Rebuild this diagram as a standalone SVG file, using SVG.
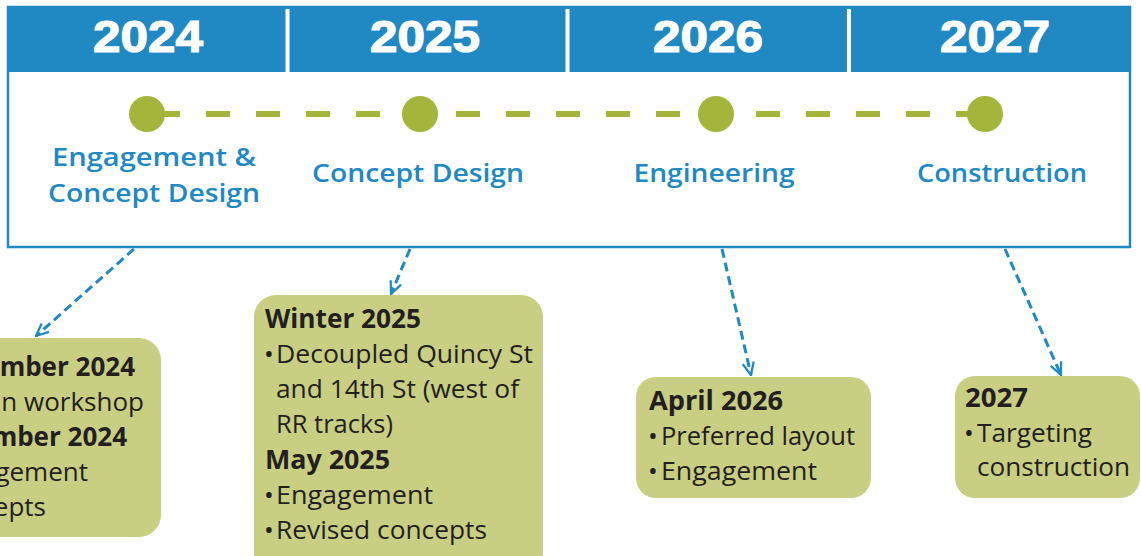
<svg xmlns="http://www.w3.org/2000/svg" width="1141" height="556" viewBox="0 0 1141 556">
<defs>
<style>
.year{font-family:"Liberation Sans",Arial,sans-serif;font-weight:bold;font-size:45px;fill:#fff;stroke:#fff;stroke-width:1.2;text-anchor:middle}
.phase{font-family:"Open Sans","Liberation Sans",sans-serif;font-weight:600;font-size:26px;fill:#2089c4;text-anchor:middle}
.box{fill:#c8ce82}
.t{font-family:"Open Sans","Liberation Sans",sans-serif;font-size:26px;fill:#231f20}
.b{font-weight:bold}
.conn{fill:none;stroke:#2089c4;stroke-width:3;stroke-dasharray:9 5}
.dot{fill:#a3b63b}
</style>
<marker id="arr" viewBox="0 0 12 12" refX="11" refY="6" markerWidth="5" markerHeight="5" orient="auto" markerUnits="strokeWidth">
<path d="M1,1.5 L11,6 L1,10.5" fill="none" stroke="#2089c4" stroke-width="1.8" stroke-linejoin="miter"/>
</marker>
</defs>
<g id="frame">
<rect x="8" y="7" width="1122" height="240" fill="#fff" stroke="#2089c4" stroke-width="2.5"/>
<rect x="8" y="7" width="1122" height="65" fill="#2089c4"/>
<rect x="285.5" y="9" width="4" height="63" fill="#fff"/>
<rect x="565.5" y="9" width="4" height="63" fill="#fff"/>
<rect x="847" y="9" width="4" height="63" fill="#fff"/>
</g>
<g id="years">
<text class="year" x="148" y="52" textLength="110" lengthAdjust="spacingAndGlyphs">2024</text>
<text class="year" x="425" y="52" textLength="110" lengthAdjust="spacingAndGlyphs">2025</text>
<text class="year" x="708" y="52" textLength="110" lengthAdjust="spacingAndGlyphs">2026</text>
<text class="year" x="995" y="52" textLength="110" lengthAdjust="spacingAndGlyphs">2027</text>
</g>
<g id="timeline">
<line x1="147" y1="114" x2="985" y2="114" stroke="#a3b63b" stroke-width="6" stroke-dasharray="24 26" stroke-dashoffset="-9"/>
</g>
<g id="phase-engagement">
<circle class="dot" cx="147" cy="114" r="18"/>
<text class="phase" x="154" y="166" textLength="204" lengthAdjust="spacingAndGlyphs">Engagement &amp;</text>
<text class="phase" x="154" y="202" textLength="212" lengthAdjust="spacingAndGlyphs">Concept Design</text>
</g>
<g id="phase-concept">
<circle class="dot" cx="420" cy="114" r="18"/>
<text class="phase" x="418" y="182" textLength="212" lengthAdjust="spacingAndGlyphs">Concept Design</text>
</g>
<g id="phase-engineering">
<circle class="dot" cx="716" cy="114" r="18"/>
<text class="phase" x="714" y="182" textLength="161" lengthAdjust="spacingAndGlyphs">Engineering</text>
</g>
<g id="phase-construction">
<circle class="dot" cx="985" cy="114" r="18"/>
<text class="phase" x="1002" y="182" textLength="170" lengthAdjust="spacingAndGlyphs">Construction</text>
</g>
<g id="connectors">
<line class="conn" x1="134" y1="249" x2="36" y2="336" marker-end="url(#arr)"/>
<line class="conn" x1="410" y1="249" x2="391" y2="294" marker-end="url(#arr)"/>
<line class="conn" x1="722" y1="249" x2="751" y2="375" marker-end="url(#arr)"/>
<line class="conn" x1="1005" y1="249" x2="1061" y2="375" marker-end="url(#arr)"/>
</g>
<g id="box-2024">
<rect class="box" x="-30" y="338" width="191" height="199" rx="22"/>
<text class="t b" x="135" y="376" text-anchor="end">mber 2024</text>
<text class="t" x="144" y="411" text-anchor="end">n workshop</text>
<text class="t b" x="127" y="446" text-anchor="end">mber 2024</text>
<text class="t" x="88" y="481" text-anchor="end">gement</text>
<text class="t" x="46" y="516" text-anchor="end">epts</text>
</g>
<g id="box-2025">
<rect class="box" x="254" y="295" width="289" height="280" rx="22"/>
<text class="t b" x="265" y="328" textLength="156" lengthAdjust="spacingAndGlyphs">Winter 2025</text>
<text class="t" y="363"><tspan x="264">•</tspan><tspan x="276" textLength="257" lengthAdjust="spacingAndGlyphs">Decoupled Quincy St</tspan></text>
<text class="t" x="276" y="398" textLength="243" lengthAdjust="spacingAndGlyphs">and 14th St (west of</text>
<text class="t" x="276" y="433" textLength="117" lengthAdjust="spacingAndGlyphs">RR tracks)</text>
<text class="t b" x="265" y="469" textLength="125" lengthAdjust="spacingAndGlyphs">May 2025</text>
<text class="t" y="504"><tspan x="264">•</tspan><tspan x="276" textLength="157" lengthAdjust="spacingAndGlyphs">Engagement</tspan></text>
<text class="t" y="539"><tspan x="264">•</tspan><tspan x="276" textLength="211" lengthAdjust="spacingAndGlyphs">Revised concepts</tspan></text>
</g>
<g id="box-2026">
<rect class="box" x="636" y="377" width="235" height="121" rx="20"/>
<text class="t b" x="649" y="410" textLength="134" lengthAdjust="spacingAndGlyphs">April 2026</text>
<text class="t" y="445"><tspan x="648">•</tspan><tspan x="661" textLength="194" lengthAdjust="spacingAndGlyphs">Preferred layout</tspan></text>
<text class="t" y="480"><tspan x="648">•</tspan><tspan x="661" textLength="156" lengthAdjust="spacingAndGlyphs">Engagement</tspan></text>
</g>
<g id="box-2027">
<rect class="box" x="955" y="376" width="185" height="122" rx="20"/>
<text class="t b" x="965" y="407" textLength="63" lengthAdjust="spacingAndGlyphs">2027</text>
<text class="t" y="442"><tspan x="964">•</tspan><tspan x="977" textLength="115" lengthAdjust="spacingAndGlyphs">Targeting</tspan></text>
<text class="t" x="977" y="476" textLength="153" lengthAdjust="spacingAndGlyphs">construction</text>
</g>
</svg>
